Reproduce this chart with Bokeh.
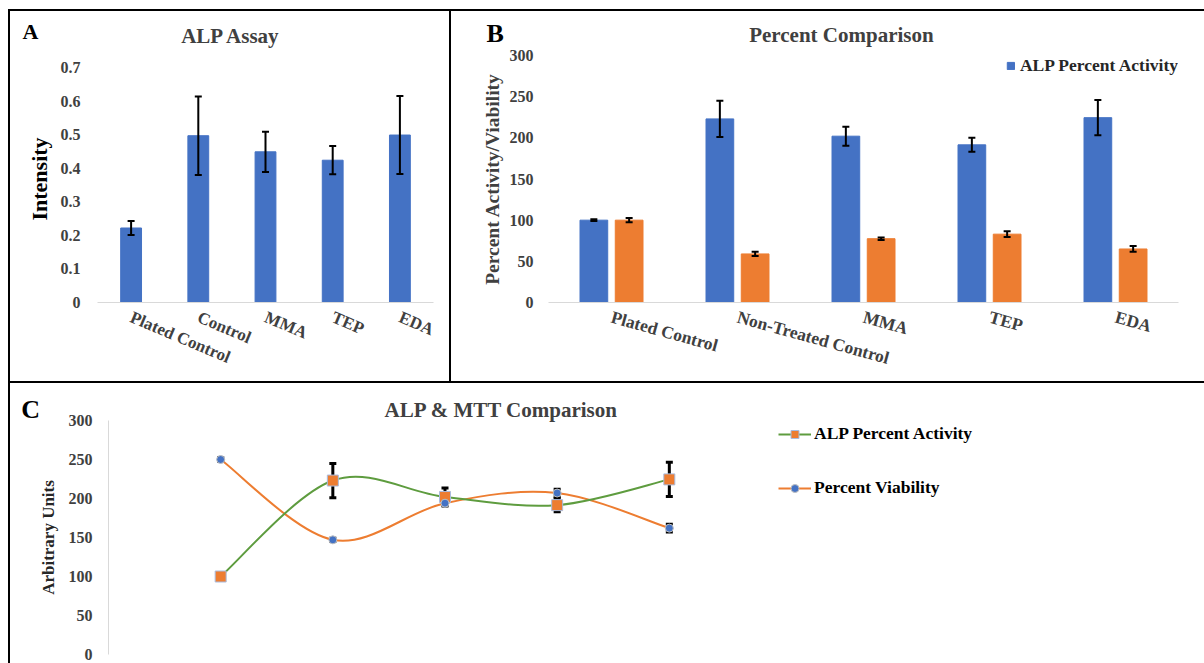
from bokeh.plotting import figure
from bokeh.models import (ColumnDataSource, Whisker, TeeHead, Label, Legend, LegendItem,
                          Range1d, FactorRange)
from bokeh.layouts import column, row
from bokeh.transform import dodge
from bokeh.embed import file_html
from bokeh.resources import INLINE

# ---------------- data ----------------
a_categories = ["Plated Control", "Control", "MMA", "TEP", "EDA"]
a_intensity = [0.222, 0.497, 0.449, 0.424, 0.499]
a_error = [0.021, 0.117, 0.060, 0.042, 0.116]
a_ticks = [0, 0.1, 0.2, 0.3, 0.4, 0.5, 0.6, 0.7]

b_categories = ["Plated Control", "Non-Treated Control", "MMA", "TEP", "EDA"]
b_alp_activity = [100, 223, 202, 191.5, 224.5]
b_alp_error = [1, 22, 11.5, 8.5, 21.5]
b_viability = [100, 59, 77.5, 83, 65]
b_viability_error = [2.5, 2.5, 1.5, 3.5, 3.5]
b_ticks = [0, 50, 100, 150, 200, 250, 300]

c_categories = ["Plated Control", "Non-Treated Control", "MMA", "TEP", "EDA"]
c_alp_activity = [100, 223, 202, 191.5, 224.5]
c_alp_error = [1, 22, 11.5, 8.5, 22]
c_viability = [250, 147, 194, 207, 162]
c_viability_error = [2.5, 2, 2, 5, 5]
c_ticks = [0, 50, 100, 150, 200, 250, 300]

FONT = "Liberation Serif"
BLUE = "#4472C4"
ORANGE = "#ED7D31"
GREEN = "#5E9C3F"
GRAY_TXT = "#404040"


def base_style(p):
    p.xgrid.visible = False
    p.ygrid.visible = False
    p.outline_line_color = None
    p.background_fill_color = "white"
    p.border_fill_color = "white"
    for ax in p.axis:
        ax.major_label_text_font = FONT
        ax.major_label_text_font_style = "bold"
        ax.major_label_text_font_size = "16px"
        ax.major_label_text_color = GRAY_TXT
        ax.axis_label_text_font = FONT
        ax.axis_label_text_font_style = "bold"
        ax.major_tick_line_color = None
        ax.minor_tick_line_color = None
        ax.major_tick_out = 0
        ax.major_tick_in = 0
        ax.minor_tick_out = 0
        ax.minor_tick_in = 0


def whisker(src, base, up, lo, width=2, size=7, level="annotation"):
    return Whisker(base=base, upper=up, lower=lo, source=src, level=level,
                   line_color="black", line_width=width,
                   upper_head=TeeHead(size=size, line_color="black", line_width=width),
                   lower_head=TeeHead(size=size, line_color="black", line_width=width))


def text_label(x, y, text, size, color, align):
    return Label(x=x, y=y, text=text, text_font=FONT, text_font_style="bold",
                 text_font_size=size, text_color=color, text_align=align,
                 text_baseline="middle")


# ---------------- panel A ----------------
srcA = ColumnDataSource(dict(cat=a_categories, val=a_intensity,
                             up=[v + e for v, e in zip(a_intensity, a_error)],
                             lo=[v - e for v, e in zip(a_intensity, a_error)]))
pA = figure(width=443, height=374, x_range=FactorRange(*a_categories),
            y_range=Range1d(0, 0.736),
            output_backend="svg", toolbar_location=None,
            min_border_left=87, min_border_right=20, min_border_top=44, min_border_bottom=83)
pA.vbar(x="cat", top="val", width=0.31, source=srcA, fill_color=BLUE, line_color=BLUE)
pA.add_layout(whisker(srcA, "cat", "up", "lo"))
base_style(pA)
pA.yaxis.ticker = a_ticks
pA.yaxis.major_label_overrides = {0: "0"}
pA.yaxis.axis_line_color = None
pA.yaxis.major_label_standoff = 17
pA.yaxis.axis_label = "Intensity"
pA.yaxis.axis_label_text_font_size = "22px"
pA.yaxis.axis_label_text_color = "black"
pA.yaxis.axis_label_standoff = 6
pA.xaxis.axis_line_color = "#D9D9D9"
pA.xaxis.major_label_orientation = -0.40
pA.xaxis.major_label_text_font_size = "17px"
pA.xaxis.major_label_standoff = 14
pA.add_layout(text_label(-1.116, 0.809, "A", "22px", "black", "left"), "right")
pA.add_layout(text_label(1.987, 0.794, "ALP Assay", "21px", GRAY_TXT, "center"), "above")
pA.styles = {"border-left": "2px solid black", "border-top": "2px solid black",
             "border-right": "2px solid black", "border-bottom": "2px solid black"}

# ---------------- panel B ----------------
srcB = ColumnDataSource(dict(cat=b_categories, alp=b_alp_activity, via=b_viability,
                             alp_up=[v + e for v, e in zip(b_alp_activity, b_alp_error)],
                             alp_lo=[v - e for v, e in zip(b_alp_activity, b_alp_error)],
                             via_up=[v + e for v, e in zip(b_viability, b_viability_error)],
                             via_lo=[v - e for v, e in zip(b_viability, b_viability_error)]))
pB = figure(width=753, height=374, x_range=FactorRange(*b_categories), y_range=Range1d(0, 300),
            output_backend="svg", toolbar_location=None,
            min_border_left=97, min_border_right=26, min_border_top=44, min_border_bottom=83)
rb1 = pB.vbar(x=dodge("cat", -0.14, range=pB.x_range), top="alp", width=0.22, source=srcB,
              fill_color=BLUE, line_color=BLUE)
rb2 = pB.vbar(x=dodge("cat", 0.14, range=pB.x_range), top="via", width=0.22, source=srcB,
              fill_color=ORANGE, line_color=ORANGE)
pB.add_layout(whisker(srcB, dodge("cat", -0.14, range=pB.x_range), "alp_up", "alp_lo"))
pB.add_layout(whisker(srcB, dodge("cat", 0.14, range=pB.x_range), "via_up", "via_lo"))
base_style(pB)
pB.yaxis.ticker = b_ticks
pB.yaxis.axis_line_color = None
pB.yaxis.major_label_standoff = 15
pB.yaxis.axis_label = "Percent Activity/Viability"
pB.yaxis.axis_label_text_font_size = "19.5px"
pB.yaxis.axis_label_text_color = GRAY_TXT
pB.yaxis.axis_label_standoff = 4
pB.xaxis.axis_line_color = "#D9D9D9"
pB.xaxis.major_label_orientation = -0.27
pB.xaxis.major_label_text_font_size = "17.5px"
pB.xaxis.major_label_standoff = 14
legB = Legend(items=[LegendItem(label="ALP Percent Activity", renderers=[rb1])],
              location="top_right", glyph_width=9, glyph_height=9, label_standoff=5,
              margin=0, padding=3, border_line_color=None, background_fill_alpha=0,
              label_text_font=FONT, label_text_font_style="bold", label_text_font_size="17.5px",
              label_text_color="#262626")
pB.add_layout(legB)
pB.add_layout(text_label(-0.492, 326.7, "B", "26px", "black", "left"), "left")
pB.add_layout(text_label(2.325, 324.3, "Percent Comparison", "21px", GRAY_TXT, "center"), "above")
pB.styles = {"border-top": "2px solid black", "border-bottom": "2px solid black"}

# ---------------- panel C ----------------
c_index = list(range(len(c_categories)))
srcC = ColumnDataSource(dict(idx=c_index, cat=c_categories, alp=c_alp_activity, via=c_viability,
                             alp_up=[v + e for v, e in zip(c_alp_activity, c_alp_error)],
                             alp_lo=[v - e for v, e in zip(c_alp_activity, c_alp_error)],
                             via_up=[v + e for v, e in zip(c_viability, c_viability_error)],
                             via_lo=[v - e for v, e in zip(c_viability, c_viability_error)]))
pC = figure(width=1196, height=280, x_range=Range1d(-1, 8.7), y_range=Range1d(0, 300),
            x_axis_location=None, output_backend="svg", toolbar_location=None,
            min_border_left=98, min_border_right=10, min_border_top=37, min_border_bottom=9)


def smooth(xs, ys):
    n = len(ys)
    d = dict(x0=[], y0=[], x1=[], y1=[], cx0=[], cy0=[], cx1=[], cy1=[])
    for i in range(n - 1):
        a = max(i - 1, 0)
        b = min(i + 2, n - 1)
        d["x0"].append(xs[i]); d["y0"].append(ys[i])
        d["x1"].append(xs[i + 1]); d["y1"].append(ys[i + 1])
        d["cx0"].append(xs[i] + (xs[i + 1] - xs[a]) / 6)
        d["cy0"].append(ys[i] + (ys[i + 1] - ys[a]) / 6)
        d["cx1"].append(xs[i + 1] - (xs[b] - xs[i]) / 6)
        d["cy1"].append(ys[i + 1] - (ys[b] - ys[i]) / 6)
    return ColumnDataSource(d)


pC.add_layout(whisker(srcC, "idx", "alp_up", "alp_lo", width=3, size=7, level="underlay"))
pC.add_layout(whisker(srcC, "idx", "via_up", "via_lo", width=3, size=7, level="underlay"))
via_curve = pC.bezier(x0="x0", y0="y0", x1="x1", y1="y1", cx0="cx0", cy0="cy0", cx1="cx1",
                      cy1="cy1", source=smooth(c_index, c_viability), line_color=ORANGE,
                      line_width=2)
alp_curve = pC.bezier(x0="x0", y0="y0", x1="x1", y1="y1", cx0="cx0", cy0="cy0", cx1="cx1",
                      cy1="cy1", source=smooth(c_index, c_alp_activity), line_color=GREEN,
                      line_width=2)
alp_pts = pC.scatter(x="idx", y="alp", source=srcC, marker="square", size=11,
                     fill_color=ORANGE, line_color="#A9BCE0", line_width=1)
via_pts = pC.scatter(x="idx", y="via", source=srcC, marker="circle", size=8,
                     fill_color=BLUE, line_color="#BFBFBF", line_width=1)
base_style(pC)
pC.yaxis.ticker = c_ticks
pC.yaxis.axis_line_color = "#D9D9D9"
pC.yaxis.major_label_standoff = 16
pC.yaxis.axis_label = "Arbitrary Units"
pC.yaxis.axis_label_text_font_size = "17px"
pC.yaxis.axis_label_text_color = "#262626"
pC.yaxis.axis_label_standoff = 8
legC = Legend(items=[LegendItem(label="ALP Percent Activity", renderers=[alp_curve, alp_pts]),
                     LegendItem(label="Percent Viability", renderers=[via_curve, via_pts])],
              location=(670, 156), orientation="vertical", spacing=33, glyph_width=33,
              glyph_height=20, label_standoff=3, margin=0, padding=3, border_line_color=None,
              background_fill_alpha=0, label_text_font=FONT, label_text_font_style="bold",
              label_text_font_size="17.5px", label_text_color="black")
pC.add_layout(legC)
pC.add_layout(text_label(-1.777, 314.7, "C", "26px", "black", "left"), "left")
pC.add_layout(text_label(2.504, 313.5, "ALP & MTT Comparison", "21px", GRAY_TXT, "center"),
              "above")
pC.styles = {"border-left": "2px solid black"}

layout = column(row(pA, pB), pC, styles={"margin-left": "8px", "margin-top": "9px"})

open("out.html", "w").write(file_html(layout, INLINE))
